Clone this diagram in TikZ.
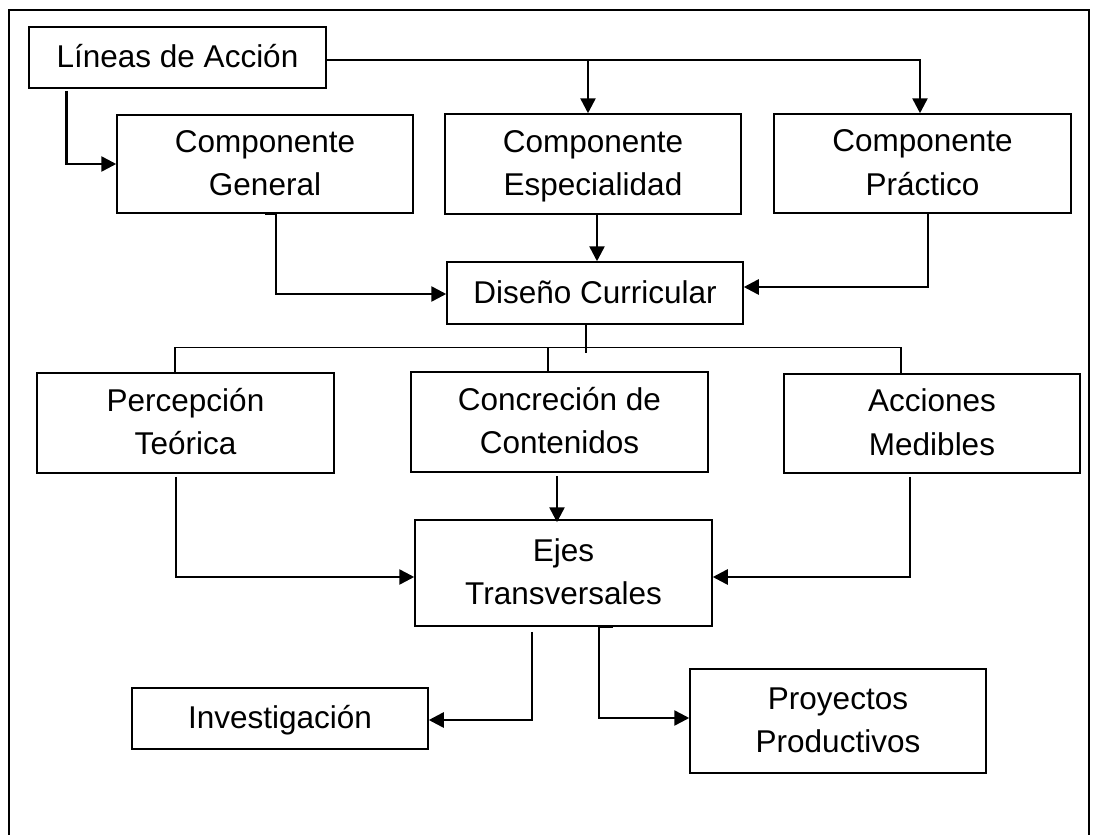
\documentclass[tikz,border=0pt]{standalone}
\usepackage{fontspec}
\setmainfont{Liberation Sans}
\usetikzlibrary{arrows.meta}
\newcommand{\bxfont}{\fontsize{31.5}{43.5}\selectfont}
\newcommand{\bst}{\rule[-11.5pt]{0pt}{43pt}}
\begin{document}
\begin{tikzpicture}[x=1pt,y=-1pt,
  box/.style={draw, line width=1.5pt, inner sep=0pt, align=center, font=\bxfont},
  conn/.style={line width=2.6pt, -{Triangle[length=15pt,width=15pt]}},
  plain/.style={line width=1.5pt}]
\useasboundingbox (0,0) rectangle (1093,835);
\clip (0,0) rectangle (1093,835);
% outer frame
\draw[plain] (9,845) -- (9,10) -- (1089,10) -- (1089,845);
% nodes
\node[box, minimum width=297pt, minimum height=61pt] (lin) at (177.5,57.5) {\bst Líneas de Acción\bst};
\node[box, minimum width=296pt, minimum height=98pt] (gen) at (265,164) {\bst Componente\\General\bst};
\node[box, minimum width=296pt, minimum height=100pt] (esp) at (593,164) {\bst Componente\\Especialidad\bst};
\node[box, minimum width=297pt, minimum height=99pt] (pra) at (922.5,163.5) {\bst Componente\\Práctico\bst};
\node[box, minimum width=296pt, minimum height=62pt] (dis) at (595,293) {\bst Diseño Curricular\bst};
\node[box, minimum width=297pt, minimum height=100pt] (per) at (185.5,423) {\bst Percepción\\Teórica\bst};
\node[box, minimum width=297pt, minimum height=100pt] (con) at (559.5,422) {\bst Concreción de\\Contenidos\bst};
\node[box, minimum width=296pt, minimum height=99pt] (acc) at (932,423.5) {\bst Acciones\\Medibles\bst};
\node[box, minimum width=297pt, minimum height=106pt] (eje) at (563.5,573) {\bst Ejes\\Transversales\bst};
\node[box, minimum width=296pt, minimum height=61pt] (inv) at (280,718.5) {\bst Investigación\bst};
\node[box, minimum width=296pt, minimum height=104pt] (pro) at (838,721) {\bst Proyectos\\Productivos\bst};
% connectors from Lineas de Accion
\draw[conn] ([xshift=38pt,yshift=-2pt]lin.south west) |- (gen.west);
\draw[conn] ([yshift=-2.5pt]lin.east) -| ([xshift=-2.5pt]pra.north);
\draw[conn] ([yshift=-2.5pt]lin.east -| 588,0) -- ([xshift=-5pt]esp.north);
% into Diseno Curricular
\draw[conn] (gen.south) -- ++(11,0) |- ([yshift=-1pt]dis.west);
\draw[conn] ([xshift=4pt]esp.south) -- ([xshift=4pt]esp.south |- dis.north);
\draw[conn] ([xshift=5.5pt]pra.south) |- ([yshift=6pt]dis.east);
% distribution bus
\draw[plain] ([xshift=-9pt]dis.south) -- ++(0,28);
\draw[plain] ([xshift=-10.5pt]per.north) -- ++(0,-25) -| ([xshift=-31pt]acc.north);
\draw[plain] ([xshift=-11.5pt]con.north) -- ++(0,-24);
% into Ejes Transversales
\draw[conn] ([xshift=-2.5pt,yshift=-3pt]con.south) -- ([xshift=-2.5pt,yshift=-3pt]con.south |- eje.north);
\draw[conn] ([xshift=-9.5pt,yshift=-3pt]per.south) |- ([yshift=-4pt]eje.west);
\draw[conn] ([xshift=-22pt,yshift=-3pt]acc.south) |- ([yshift=-4pt]eje.east);
% out of Ejes Transversales
\draw[conn] ([xshift=-31.5pt,yshift=-5pt]eje.south) |- ([yshift=-1.5pt]inv.east);
\draw[conn] ([xshift=49.5pt]eje.south) -- ++(-14,0) |- ([yshift=3pt]pro.west);
\end{tikzpicture}
\end{document}
